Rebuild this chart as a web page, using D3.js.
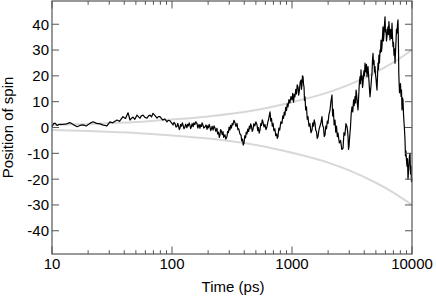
<!DOCTYPE html>
<html>
<head>
<meta charset="utf-8">
<script src="https://cdn.jsdelivr.net/npm/d3@7"></script>
<style>
  body { margin: 0; background: #fff; }
  svg { display: block; font-family: "Liberation Sans", Arial, sans-serif; }
</style>
</head>
<body>
<svg></svg>
<script>
// spin trajectory: [time in ps, position]
const trajectory = [
  [10, 0.3], [10.3, 1.5], [10.6, 1.7], [11, 0.8], [11.5, 1.2], [12.3, 1.2], [13.2, 1.4], [14.1, 1.9], [15, 1.2], [16.2, 0.3],
  [17.1, 0.8], [18.1, 1.0], [19.3, 0.6], [20.7, 1.6], [22, 2.2], [23.5, 1.6], [25.1, 1.4], [26.8, 0.9], [28.7, 0.6], [30.4, 2.2],
  [32, 1.8], [34.8, 2.9], [36.5, 2.4], [39, 4.2], [41, 3.5], [43, 5.7], [44.7, 2.9], [46, 3.6], [47.3, 4.0], [49, 3.2],
  [51.1, 4.8], [52.5, 4.2], [54.1, 3.6], [55.5, 4.5], [57.3, 4.8], [59.5, 3.9], [61.9, 3.6], [63.7, 4.5], [65.6, 4.8], [67.5, 4.1],
  [69.5, 5.5], [72, 4.7], [75, 3.6], [77, 4.2], [79.4, 4.2], [81.5, 3.5], [84.1, 2.9], [87, 3.3], [90.9, 2.2], [93, 2.8],
  [96.2, 2.6], [99, 1.8],
  [102, 1.0], [104, 2.0], [106, 1.5], [108, 0.2], [110, 0.3], [111.5, 1.6], [113, 0.9], [115, -0.8], [116.6, -0.3], [118, 1.2],
  [120, 0.5], [122, 1.8], [123.5, 1.0], [126, -0.5], [128, 0.2], [130, 1.3], [133, -0.1], [135, 1.2], [137, 0.6], [139, 1.8],
  [141, 1.0], [143, -0.4], [145, 0.2], [147, 1.5], [150, 0.3], [152, 1.8], [155, 1.1], [158, 2.2], [162, 1.4], [164, -0.2],
  [166, 0.4], [168, 1.2], [171, -0.3], [173, 1.0], [176, 0.4], [178, 1.8], [181, 1.0], [184, -0.2], [188, 0.2], [192, 1.0],
  [196, -0.7], [198, 0.6], [201, -0.1], [204, 1.2], [207, 0.3], [210, -1.2], [213, -0.6], [216, 0.5], [220, -1.0], [224, 0.6],
  [228, -0.2], [232, -1.5], [237, -0.3], [240, -2.5], [244, -1.8], [248, -3.8], [251, -2.9], [254, -0.8], [258, -1.4], [262, -2.8],
  [266, -1.6], [270, -3.8], [276, -2.8], [281, -4.5], [287, -3.6], [291, -1.5], [295, -2.0], [299, 0.2], [304, -1.0], [308, 0.8],
  [313, -0.2], [317, 1.5], [322, 1.0], [328, 2.8], [335, 1.8], [341, 0.4], [348, 1.6], [354, -0.8], [360, -0.5], [368, -2.5],
  [376, -3.0], [381, -5.2], [387, -4.5], [392, -6.8], [398, -6.1], [404, -3.2], [410, -4.0], [416, -1.8], [422, -2.5], [428, -0.6],
  [435, -1.6], [441, 0.5], [447, -0.5], [453, 1.4], [460, 0.4], [466, -1.5], [473, -0.8], [481, 1.5], [490, 0.6], [500, 2.2],
  [511, 1.0], [518, -1.2], [525, 0.0], [533, -2.2], [541, -1.0], [549, 1.5], [557, 0.8], [565, 3.0], [573, 2.2], [584, 0.2],
  [595, 1.2], [607, -0.8], [619, 0.3], [628, 2.0], [637, 3.0], [646, 4.5], [656, 6.1], [665, 2.5], [675, 3.5], [685, 0.5],
  [695, 1.6], [707, -1.2], [720, -0.5], [732, -3.2], [745, -2.5], [754, -4.2], [764, -3.6], [777, -0.2], [790, -1.0], [807, 2.2],
  [825, 1.6], [838, 4.5], [850, 3.5], [862, 6.0], [874, 4.8], [887, 7.8], [900, 6.5], [913, 9.2], [926, 8.0], [943, 10.8],
  [960, 9.5], [980, 12.0], [1000, 10.7],
  [1015, 13.2], [1030, 9.8], [1045, 12.8], [1059, 11.9], [1075, 14.8], [1090, 13.0], [1105, 16.5], [1122, 15.8], [1136, 12.5], [1150, 14.0],
  [1170, 17.5], [1189, 18.4], [1200, 14.8], [1210, 16.5], [1222, 20.0], [1235, 19.7], [1248, 16.8], [1260, 15.5], [1271, 10.5], [1283, 11.9],
  [1300, 6.8], [1320, 8.0], [1340, 3.2], [1359, 4.2], [1385, 0.5], [1410, 1.5], [1440, -2.0], [1468, -1.0], [1490, 1.8], [1510, 0.5],
  [1532, 3.0], [1555, 1.6], [1578, -1.2], [1600, -1.5], [1623, -4.2], [1647, -3.6], [1678, -0.8], [1710, 0.5], [1745, 2.0], [1778, 4.2],
  [1800, 0.8], [1830, 0.0], [1857, -3.5], [1884, -2.9], [1912, 0.5], [1940, -0.5], [1968, 2.5], [1995, 1.6], [2030, 5.0], [2070, 6.5],
  [2110, 10.0], [2154, 12.6], [2180, 4.5], [2210, 7.0], [2245, 1.0], [2282, 2.9], [2315, -1.8], [2350, 0.5], [2385, -3.5], [2418, -2.2],
  [2480, -6.0], [2540, -5.0], [2600, -8.5], [2661, -8.1], [2710, -2.0], [2760, -3.0], [2815, 1.5], [2873, 0.3], [2900, -1.0], [2930, -3.5],
  [2958, -8.5], [2985, -7.4], [3030, -3.0], [3070, 0.0], [3115, 5.5], [3162, 8.0], [3210, 6.0], [3260, 10.7], [3300, 8.5], [3350, 12.0],
  [3385, 9.5], [3420, 14.5], [3450, 13.0], [3481, 11.0], [3515, 8.5], [3548, 6.8], [3585, 11.0], [3620, 15.0], [3655, 18.0], [3690, 19.7],
  [3725, 17.0], [3760, 22.3], [3795, 18.5], [3831, 20.0], [3870, 15.5], [3908, 17.1], [3945, 20.5], [3980, 22.0], [4020, 20.0], [4058, 24.9],
  [4095, 23.0], [4130, 21.5], [4175, 24.5], [4217, 19.7], [4258, 22.0], [4300, 23.6], [4340, 20.5], [4380, 18.0], [4420, 15.0], [4467, 11.9],
  [4510, 14.0], [4550, 16.0], [4596, 19.0], [4642, 21.0], [4690, 26.5], [4732, 28.7], [4775, 24.5], [4820, 26.0], [4870, 21.5], [4920, 23.6],
  [4965, 20.5], [5010, 19.0], [5060, 16.5], [5109, 14.5], [5160, 20.0], [5209, 24.9], [5255, 22.5], [5300, 28.0], [5355, 25.0], [5412, 30.0],
  [5465, 29.0], [5520, 33.9], [5570, 29.5], [5623, 31.5], [5680, 35.5], [5733, 39.0], [5785, 33.5], [5840, 36.0], [5900, 40.0], [5957, 42.9],
  [6010, 37.0], [6070, 38.0], [6130, 33.5], [6190, 35.2], [6250, 37.5], [6310, 39.0], [6365, 36.0], [6420, 41.0], [6490, 37.5], [6556, 33.9],
  [6620, 38.0], [6680, 37.0], [6745, 34.5], [6813, 40.4], [6880, 35.0], [6946, 31.3], [7010, 33.0], [7080, 28.0], [7150, 30.5], [7218, 24.9],
  [7285, 29.0], [7350, 33.0], [7420, 38.0], [7499, 36.5], [7570, 40.0], [7646, 41.7], [7680, 37.0], [7720, 30.0], [7760, 21.0], [7794, 18.4],
  [7870, 13.5], [7943, 15.8], [8020, 17.0], [8100, 12.0], [8175, 14.5], [8254, 6.8], [8330, 11.5], [8414, 10.7], [8500, 5.0], [8580, 2.0],
  [8660, -1.0], [8745, -4.8], [8820, -11.0], [8900, -9.0], [9000, -13.0], [9085, -15.0], [9170, -12.0], [9261, -20.0], [9350, -17.0], [9440, -14.0],
  [9530, -11.0], [9624, -10.0], [9720, -18.0], [9810, -15.0], [9900, -21.0], [10000, -20.0]
];

// grey envelope
const envTimes = [10, 20, 50, 100, 200, 500, 1000, 2000, 3000, 5000, 7000, 10000];
const envUpper = [0.95, 1.35, 2.1, 3.1, 4.3, 6.8, 9.8, 13.6, 16.6, 21.4, 25.2, 30];
const envLower = [-0.95, -1.35, -2.1, -3.1, -4.3, -6.8, -9.8, -13.6, -16.6, -21.4, -25.2, -30];

const xTickLabels = [10, 100, 1000, 10000];
const yTickLabels = [-40, -30, -20, -10, 0, 10, 20, 30, 40];

const W = 436, H = 299;
const margin = { top: 1, right: 24, bottom: 45, left: 52 };
const graphWidth = W - margin.left - margin.right;
const graphHeight = H - margin.top - margin.bottom;

const svg = d3.select("svg").attr("width", W).attr("height", H);
const graph = svg.append("g").attr("transform", `translate(${margin.left}, ${margin.top})`);

const x = d3.scaleLog().domain([10, 10000]).range([0, graphWidth]);
const y = d3.scaleLinear().domain([-49, 49]).range([graphHeight, 0]);

const axisColor = "#555";

// envelope curves
const envLine = (vals) => d3.line()
  .x((d, i) => x(envTimes[i]))
  .y((d) => y(d))
  .curve(d3.curveMonotoneX)(vals);

graph.append("path").attr("d", envLine(envUpper))
  .attr("fill", "none").attr("stroke", "#d8d8d8").attr("stroke-width", 2);
graph.append("path").attr("d", envLine(envLower))
  .attr("fill", "none").attr("stroke", "#d8d8d8").attr("stroke-width", 2);

// trajectory
const traj = d3.line()
  .x((d) => x(d[0]))
  .y((d) => y(d[1]));
graph.append("path").attr("d", traj(trajectory))
  .attr("fill", "none").attr("stroke", "#000").attr("stroke-width", 1.2)
  .attr("stroke-linejoin", "round");

// minor ticks for log axis
const allTicks = [];
for (let dec = 10; dec < 10000; dec *= 10) {
  for (let k = 1; k < 10; k++) allTicks.push(dec * k);
}
allTicks.push(10000);
const isMajor = (t) => xTickLabels.includes(t);

const xBottom = graph.append("g").attr("transform", `translate(0, ${graphHeight})`);
const xTop = graph.append("g");
[xBottom, xTop].forEach((g, gi) => {
  const dir = gi === 0 ? -1 : 1;
  g.selectAll("line").data(allTicks).enter().append("line")
    .attr("x1", (d) => x(d)).attr("x2", (d) => x(d))
    .attr("y1", 0).attr("y2", (d) => dir * (isMajor(d) ? 7.5 : 3.8))
    .attr("stroke", axisColor).attr("stroke-width", 1);
});
xBottom.selectAll("text").data(xTickLabels).enter().append("text")
  .attr("x", (d) => x(d)).attr("y", 15)
  .attr("text-anchor", "middle").attr("font-size", 15)
  .text((d) => d);

// y ticks on both sides
const yLeft = graph.append("g");
yLeft.selectAll("line").data(yTickLabels).enter().append("line")
  .attr("x1", 0).attr("x2", 7).attr("y1", (d) => y(d)).attr("y2", (d) => y(d))
  .attr("stroke", axisColor);
yLeft.selectAll("text").data(yTickLabels).enter().append("text")
  .attr("x", -3).attr("y", (d) => y(d)).attr("dy", "0.36em")
  .attr("text-anchor", "end").attr("font-size", 15)
  .text((d) => d);
const yRight = graph.append("g").attr("transform", `translate(${graphWidth}, 0)`);
yRight.selectAll("line").data(yTickLabels).enter().append("line")
  .attr("x1", 0).attr("x2", -7).attr("y1", (d) => y(d)).attr("y2", (d) => y(d))
  .attr("stroke", axisColor);

// frame
graph.append("rect").attr("x", 0).attr("y", 0)
  .attr("width", graphWidth).attr("height", graphHeight)
  .attr("fill", "none").attr("stroke", axisColor).attr("stroke-width", 1.2);

// axis titles
svg.append("text")
  .attr("x", margin.left + graphWidth / 2 + 1).attr("y", 292)
  .attr("text-anchor", "middle").attr("font-size", 15)
  .text("Time (ps)");
svg.append("text")
  .attr("transform", `translate(13, ${margin.top + graphHeight / 2}) rotate(-90)`)
  .attr("text-anchor", "middle").attr("font-size", 15)
  .text("Position of spin");
</script>
</body>
</html>
